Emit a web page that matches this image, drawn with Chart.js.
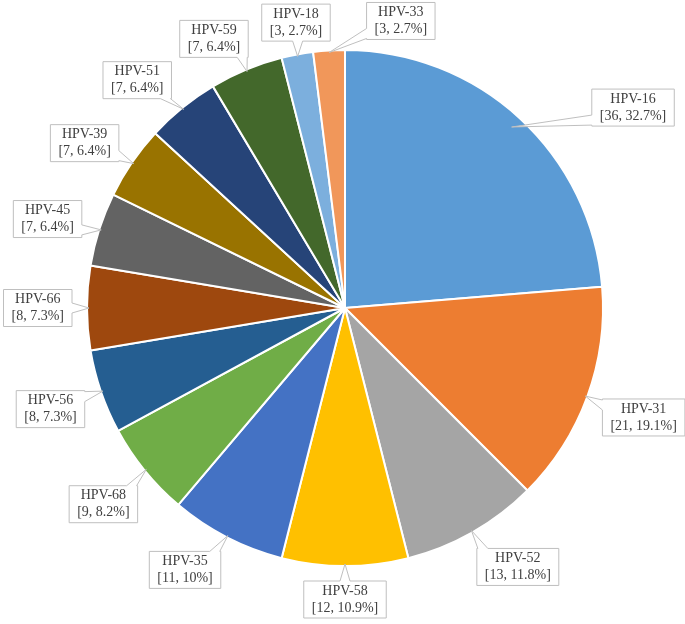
<!DOCTYPE html>
<html>
<head>
<meta charset="utf-8">
<script src="https://cdn.jsdelivr.net/npm/chart.js@4"></script>
<style>
  html, body { margin: 0; padding: 0; background: #fff; }
  #wrap { width: 685px; height: 624px; }
</style>
</head>
<body>
<div id="wrap"><canvas id="pieChart" width="685" height="624"></canvas></div>
<script>
// HPV types, clockwise from 12 o'clock
var labels = ['HPV-16', 'HPV-31', 'HPV-52', 'HPV-58', 'HPV-35', 'HPV-68', 'HPV-56',
              'HPV-66', 'HPV-45', 'HPV-39', 'HPV-51', 'HPV-59', 'HPV-18', 'HPV-33'];
var counts = [36, 21, 13, 12, 11, 9, 8, 8, 7, 7, 7, 7, 3, 3];
var percents = [32.7, 19.1, 11.8, 10.9, 10, 8.2, 7.3, 7.3, 6.4, 6.4, 6.4, 6.4, 2.7, 2.7];
var colors = ['#5B9BD5', '#ED7D31', '#A5A5A5', '#FFC000', '#4472C4', '#70AD47', '#255E91',
              '#9E480E', '#636363', '#997300', '#264478', '#43682B', '#7CAFDD', '#F1975A'];

// callout labels with a wedge pointing at the slice
var calloutPlugin = {
  id: 'callouts',
  afterDatasetsDraw: function(chart, args, opts) {
    var ctx = chart.ctx;
    var meta = chart.getDatasetMeta(0);
    ctx.save();
    ctx.font = '14px "Liberation Serif", "Times New Roman", serif';
    ctx.textAlign = 'center';
    ctx.textBaseline = 'middle';
    meta.data.forEach(function(arc, i) {
      var p = arc.getProps(['x', 'y', 'startAngle', 'endAngle', 'outerRadius'], true);
      var mid = (p.startAngle + p.endAngle) / 2;
      var ux = Math.cos(mid), uy = Math.sin(mid);
      var l1 = labels[i];
      var l2 = '[' + counts[i] + ', ' + percents[i] + '%]';
      var w = Math.max(ctx.measureText(l1).width, ctx.measureText(l2).width) + 16;
      var h = 37;
      var hw = w / 2, hh = h / 2;
      var d = p.outerRadius + 15 + hw * Math.abs(ux) + hh * Math.abs(uy);
      var cx = p.x + d * ux, cy = p.y + d * uy;
      var sh = (opts.shift && opts.shift[i]) || [0, 0];
      cx += sh[0]; cy += sh[1];
      var tipR = p.outerRadius - (opts.tipIn && opts.tipIn[i] || 2);
      var tx = p.x + tipR * ux, ty = p.y + tipR * uy;
      var L = cx - hw, R = cx + hw, T = cy - hh, B = cy + hh;
      var rx = (tx - cx) / hw, ry = (ty - cy) / hh;
      var pts = [];
      var bw = 5;
      var clamp = function(v, a, b) { return Math.max(a, Math.min(b, v)); };
      if (Math.abs(rx) > Math.abs(ry)) {
        var by = clamp(ty, T + bw + 1, B - bw - 1);
        if (rx < 0) {
          pts = [[L, T], [R, T], [R, B], [L, B], [L, by + bw], [tx, ty], [L, by - bw]];
        } else {
          pts = [[L, T], [R, T], [R, by - bw], [tx, ty], [R, by + bw], [R, B], [L, B]];
        }
      } else {
        var bx = clamp(tx, L + bw + 1, R - bw - 1);
        if (ry < 0) {
          pts = [[L, T], [bx - bw, T], [tx, ty], [bx + bw, T], [R, T], [R, B], [L, B]];
        } else {
          pts = [[L, T], [R, T], [R, B], [bx + bw, B], [tx, ty], [bx - bw, B], [L, B]];
        }
      }
      ctx.beginPath();
      pts.forEach(function(pt, k) {
        if (k === 0) ctx.moveTo(pt[0], pt[1]); else ctx.lineTo(pt[0], pt[1]);
      });
      ctx.closePath();
      ctx.fillStyle = '#ffffff';
      ctx.fill();
      ctx.strokeStyle = '#bfbfbf';
      ctx.lineWidth = 1;
      ctx.stroke();
      ctx.fillStyle = '#404040';
      ctx.fillText(l1, cx, cy - 8.5);
      ctx.fillText(l2, cx, cy + 8.5);
    });
    ctx.restore();
  }
};

var ctx = document.getElementById('pieChart').getContext('2d');
var pieChart = new Chart(ctx, {
  type: 'pie',
  data: {
    labels: labels,
    datasets: [{
      data: counts,
      backgroundColor: colors,
      borderColor: '#ffffff',
      borderWidth: 2
    }]
  },
  options: {
    responsive: false,
    animation: false,
    layout: { padding: { top: 49, bottom: 57, left: 86, right: 81 } },
    plugins: {
      legend: { display: false },
      tooltip: { enabled: false },
      callouts: {
        shift: {
          0: [75, 31], 2: [20, -10], 4: [-20, -10], 8: [-1, 6], 9: [-3, 11],
          10: [-13, 12], 11: [-15, 11], 12: [6, 7], 13: [74, 6]
        },
        tipIn: { 0: 12 }
      }
    }
  },
  plugins: [calloutPlugin]
});
</script>
</body>
</html>
